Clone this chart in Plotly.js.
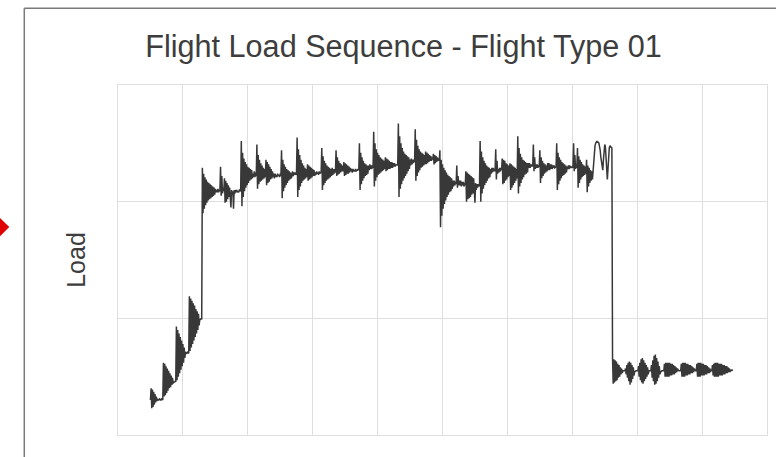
<!DOCTYPE html>
<html>
<head>
<meta charset="utf-8">
<script src="https://cdn.plot.ly/plotly-3.0.1.min.js"></script>
<style>
  html, body { margin: 0; padding: 0; background: #ffffff; }
  #chart { width: 776px; height: 457px; }
</style>
</head>
<body>
<div id="chart"></div>
<script>
// Load history for flight type 01, sampled every half time unit.
// Climb: step-wise build-up of load with gust bursts.
const climbLoad = [
  30, 40, 23, 39, 24, 37, 26, 35, 28, 33, 29, 31,
  30, 30, 31, 30, 30, 31, 30, 30,
  62, 33, 61, 34, 59, 36, 57, 38, 55, 40, 53, 41, 51, 43, 49, 44,
  46, 45, 46, 46,
  93, 47, 90, 50, 87, 53, 84, 56, 81, 59, 78, 62, 75, 66,
  71, 70, 70, 71, 70, 70,
  119, 72, 117, 75, 115, 78, 113, 81, 111, 84, 108, 87, 106, 90, 104, 94,
  99, 99, 100, 99
];

// Cruise: high mean load with repeated gust / manoeuvre spikes.
const cruiseLoad = [
  229, 190, 224, 194, 221, 197, 219, 199, 217, 201, 216, 202, 215, 203, 214, 204, 213, 205, 212, 206, 211, 208,
  210, 208, 211, 208, 210, 209,
  230, 205, 222, 207, 212, 209,
  220, 199, 218, 200, 216, 202, 214, 204, 212, 206, 195, 210, 206, 209, 194, 210, 207, 210, 208, 210, 208, 209, 208, 210, 209, 209,
  252, 196, 242, 204, 237, 209, 234, 212, 232, 214, 230, 216, 229, 218, 228, 219, 227, 220,
  224, 221, 226, 221, 225, 222,
  249, 211, 240, 215, 236, 217, 233, 218, 231, 219, 229, 220, 228, 221,
  236, 214, 234, 216, 232, 217, 230, 219, 228, 220, 226, 221,
  224, 220, 224, 221, 223, 221, 224, 222, 223, 221, 224, 222,
  244, 203, 236, 209, 232, 212, 230, 214, 228, 216, 227, 218, 226, 219, 225, 220,
  222, 226, 222, 225, 223, 225, 223, 224,
  255, 204, 245, 210, 240, 213, 236, 216, 233, 218, 231, 219, 229, 220, 228, 221,
  232, 218, 231, 219, 230, 220, 229, 221, 228, 222, 227, 222,
  225, 223, 226, 224, 225, 223, 226, 224, 225, 225,
  246, 210, 239, 214, 235, 216, 233, 218, 231, 219, 230, 220, 229, 221, 228, 222,
  229, 223, 228, 224, 228, 225,
  244, 222, 238, 223, 235, 224, 233, 225, 232, 226, 231, 226,
  234, 222, 233, 223, 232, 224, 231, 224, 230, 225, 229, 226,
  228, 225, 228, 226, 227, 226, 228, 226, 227, 227, 228, 227,
  250, 210, 242, 215, 238, 218, 235, 220, 233, 222, 232, 223, 231, 224,
  231, 227, 232, 228, 231, 228, 231, 229,
  260, 213, 250, 218, 245, 221, 242, 223, 240, 224, 238, 225, 237, 226, 236, 227, 235, 228,
  238, 226, 237, 227, 236, 228, 235, 228, 234, 229, 234, 229, 233, 230, 233, 230, 232, 231, 232, 231,
  267, 204, 256, 211, 250, 215, 246, 218, 243, 220, 241, 222, 240, 224, 239, 226, 238, 228,
  236, 231, 237, 232, 236, 233, 236, 234,
  262, 218, 253, 222, 248, 225, 245, 227, 243, 229, 242, 230, 241, 231, 240, 232,
  243, 232, 242, 233, 241, 234, 240, 235, 239, 235, 238, 236, 241, 232, 240, 233, 239, 234, 238, 235, 237, 235,
  244, 178, 236, 188, 232, 194, 229, 198, 227, 201, 225, 204, 223, 206, 222, 208, 221, 209, 220, 211,
  218, 213, 218, 214, 217, 215,
  231, 212, 222, 214,
  218, 214, 218, 213, 217, 214, 217, 213, 216, 214,
  226, 200, 225, 202, 224, 203, 223, 204, 222, 206, 221, 207, 220, 208,
  199, 216, 210, 215, 212, 215, 213, 214,
  252, 200, 243, 207, 238, 211, 235, 214, 233, 216, 231, 218, 230, 220, 229, 221,
  228, 224, 229, 225, 229, 226, 228, 226,
  245, 219, 235, 224,
  228, 225, 229, 226, 229, 227,
  237, 215, 236, 216, 235, 218, 233, 219, 232, 221, 231, 222,
  233, 210, 232, 212, 231, 214, 230, 216, 229, 218, 228, 220,
  256, 207, 246, 213, 241, 216, 238, 219, 236, 221, 235, 223, 234, 224, 233, 225,
  233, 229, 233, 229, 232, 230, 232, 230,
  249, 226, 238, 228,
  232, 229, 232, 229, 231, 230,
  244, 216, 238, 220, 235, 222, 233, 224, 232, 225, 231, 226,
  233, 227, 233, 227, 232, 228, 232, 228, 231, 229, 231, 229, 230, 230,
  250, 210, 242, 215, 238, 218, 236, 220, 234, 222, 233, 223, 232, 224, 231, 225,
  230, 228, 231, 228, 231, 229, 230, 229, 230, 229,
  250, 226, 240, 228, 232, 229,
  246, 212, 239, 216, 236, 219, 234, 221, 232, 222, 231, 223, 230, 224,
  236, 208, 231, 213, 229, 216, 227, 218, 226, 219,
  226, 236, 243, 248, 250, 251, 252, 251, 251, 250, 248, 244, 238, 232, 228,
  227, 236, 245, 249, 247, 238, 226, 219, 228, 240, 246, 248, 247, 246, 246
];

// Landing and taxi: low mean load with ground-roll oscillations.
const landingLoad = [
  66, 44, 65, 45, 64, 46, 63, 47, 61, 49, 60, 50, 58, 52, 57, 53,
  55, 55, 55, 55,
  57, 52, 60, 49, 62, 46, 63, 43, 62, 45, 60, 48, 58, 51,
  54, 55, 55, 55, 55, 55,
  59, 50, 62, 47, 65, 45, 66, 44, 64, 46, 62, 48, 60, 50, 58, 52,
  55, 55, 55, 55,
  60, 49, 64, 46, 68, 43, 69, 44, 66, 46, 63, 49, 59, 52,
  54, 55, 55, 55, 55, 55,
  61, 50, 62, 50, 62, 50, 62, 50, 62, 51, 61, 51, 61, 52, 60, 52, 59, 53, 58, 54, 57, 55,
  55, 55, 55, 55,
  61, 50, 62, 50, 62, 50, 62, 51, 61, 51, 61, 52, 60, 52, 60, 53, 59, 53, 58, 54, 57, 55,
  55, 55,
  61, 50, 62, 50, 62, 50, 62, 51, 61, 51, 61, 51, 60, 52, 60, 52, 59, 53, 58, 53, 57, 54, 56, 55,
  60, 51, 61, 50, 62, 50, 62, 50, 62, 50, 61, 51, 61, 51, 61, 51, 60, 52, 60, 52, 59, 53, 59, 53, 58, 54, 57, 54, 56, 55, 56, 55
];

const titleText = 'Flight Load Sequence - Flight Type 01';
const yTitleText = 'Load';

const load = climbLoad.concat(cruiseLoad, landingLoad);

const gridColor = '#dedede';
const inkColor = '#3d3d3d';

const trace = {
  type: 'scatter',
  mode: 'lines',
  y: load,
  x0: 25,
  dx: 0.5,
  line: { color: '#383838', width: 1.5 },
  hoverinfo: 'skip'
};

const layout = {
  width: 776,
  height: 457,
  margin: { l: 118, r: 9, t: 85, b: 22, pad: 0 },
  paper_bgcolor: '#ffffff',
  plot_bgcolor: '#ffffff',
  showlegend: false,
  font: { family: '"Liberation Sans", Arial, sans-serif', color: inkColor },
  title: {
    text: titleText,
    font: { family: '"Liberation Sans", Arial, sans-serif', size: 30.6, color: inkColor },
    xref: 'container', x: 0.52, xanchor: 'center',
    yref: 'container', y: 0.898, yanchor: 'middle'
  },
  xaxis: {
    range: [0, 500],
    tick0: 0, dtick: 50,
    showticklabels: false, ticks: '',
    showgrid: true, gridcolor: gridColor, gridwidth: 1,
    zeroline: false,
    showline: true, mirror: true, linecolor: gridColor, linewidth: 1
  },
  yaxis: {
    range: [0, 300],
    tick0: 0, dtick: 100,
    showticklabels: false, ticks: '',
    showgrid: true, gridcolor: gridColor, gridwidth: 1,
    zeroline: false,
    showline: true, mirror: true, linecolor: gridColor, linewidth: 1,
    title: {
      text: yTitleText,
      font: { family: '"Liberation Sans", Arial, sans-serif', size: 25, color: inkColor },
      standoff: 24
    }
  },
  shapes: [
    // outer frame edges
    { type: 'line', xref: 'paper', yref: 'paper', x0: -0.1444, x1: -0.1444, y0: -0.08, y1: 1.2191,
      line: { color: '#7a7a7a', width: 1.5 } },
    { type: 'line', xref: 'paper', yref: 'paper', x0: -0.1444, x1: 1.03, y0: 1.2191, y1: 1.2191,
      line: { color: '#7a7a7a', width: 1.5 } },
    // red marker on the left edge
    { type: 'path', xref: 'paper', yref: 'paper',
      path: 'M -0.19,0.635 L -0.1675,0.5943 L -0.19,0.553 Z',
      fillcolor: '#e00000', line: { color: '#e00000', width: 0 } }
  ]
};

Plotly.newPlot('chart', [trace], layout, { staticPlot: true, displayModeBar: false });
</script>
</body>
</html>
